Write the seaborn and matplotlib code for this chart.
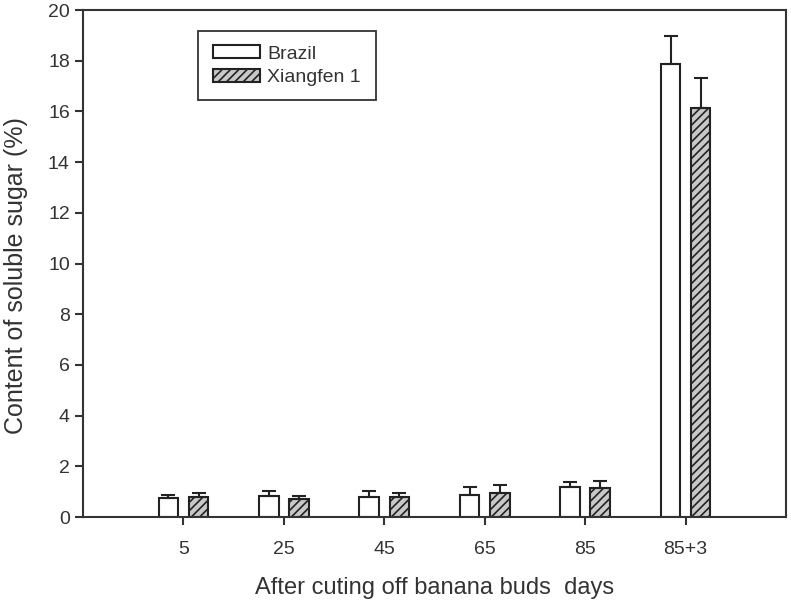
import numpy as np
import pandas as pd
import matplotlib
matplotlib.use("Agg")
import matplotlib.pyplot as plt
import seaborn as sns

days = ["5", "25", "45", "65", "85", "85+3"]
brazil = [0.76, 0.83, 0.80, 0.87, 1.20, 17.86]
brazil_err = [0.10, 0.20, 0.22, 0.30, 0.20, 1.13]
xiangfen = [0.80, 0.71, 0.78, 0.93, 1.13, 16.15]
xiangfen_err = [0.16, 0.12, 0.18, 0.33, 0.30, 1.18]
varieties = ["Brazil", "Xiangfen 1"]

sns.set_style("ticks")
plt.rcParams["font.family"] = ["Liberation Sans", "DejaVu Sans"]
plt.rcParams["hatch.color"] = "#2a2a2a"
plt.rcParams["hatch.linewidth"] = 1.2

df = pd.DataFrame({
    "day": days * 2,
    "value": brazil + xiangfen,
    "variety": [varieties[0]] * len(days) + [varieties[1]] * len(days),
})

fig = plt.figure(figsize=(7.91, 6.04), dpi=100)
ax = fig.add_axes([0.105, 0.144, 0.8887, 0.8394])

sns.barplot(data=df, x="day", y="value", hue="variety", order=days,
            hue_order=varieties, palette=["white", "#c8c8c8"],
            width=0.6, gap=0.35, edgecolor="#222222", linewidth=1.5,
            errorbar=None, ax=ax)

# one-sided (upper) error bars on top of each bar
errs = [brazil_err, xiangfen_err]
bar_conts = list(ax.containers)
for i, cont in enumerate(bar_conts):
    xs = [p.get_x() + p.get_width() / 2 for p in cont.patches]
    ys = [p.get_height() for p in cont.patches]
    if i == 1:
        for p in cont.patches:
            p.set_hatch("////")
    ax.errorbar(xs, ys, yerr=[np.zeros(len(ys)), errs[i]], fmt="none",
                ecolor="#222222", elinewidth=1.5, capsize=5.2, capthick=1.5,
                zorder=1)

ax.set_xlim(-1, 6)
ax.set_ylim(0, 20)
ax.set_yticks(np.arange(0, 21, 2))
for s in ax.spines.values():
    s.set_linewidth(1.5)
    s.set_color("#333333")
ax.tick_params(axis="both", direction="out", length=6, width=1.5,
               color="#333333", labelsize=14, labelcolor="#333333")
ax.tick_params(axis="x", pad=11)

ax.set_xlabel("After cuting off banana buds  days", fontsize=17,
              color="#333333", labelpad=14)
ax.set_ylabel("Content of soluble sugar (%)", fontsize=18, color="#333333")
ax.yaxis.set_label_coords(-0.078, 0.477)

handles, labels = ax.get_legend_handles_labels()
handles[1].set_hatch("////")
leg = ax.legend(handles, labels, loc="upper left",
                bbox_to_anchor=(0.164, 0.959), borderaxespad=0,
                fancybox=False, edgecolor="#333333", framealpha=1,
                fontsize=14, handlelength=2.4, handleheight=0.65,
                borderpad=0.75, labelspacing=0.3, handletextpad=0.4)
leg.get_frame().set_linewidth(1.3)
for t in leg.get_texts():
    t.set_color("#333333")

fig.savefig("out.png", dpi=100)
